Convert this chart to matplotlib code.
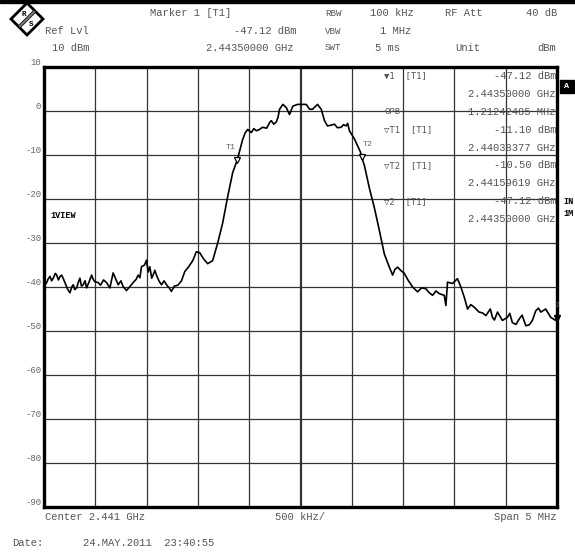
import matplotlib
matplotlib.use("Agg")
import matplotlib.pyplot as plt
from matplotlib.patches import Polygon, Rectangle
import numpy as np

W, H = 575, 554

# trace: frequency offset from center (MHz) and level (dBm)
freq_mhz = [-2.500, -2.490, -2.474, -2.460, -2.442, -2.425, -2.410, -2.390, -2.376, -2.360,
            -2.344, -2.328, -2.310, -2.296, -2.270, -2.247, -2.230, -2.215, -2.200, -2.182,
            -2.165, -2.150, -2.135, -2.118, -2.100, -2.085, -2.060, -2.036, -2.020, -2.004,
            -1.972, -1.950, -1.920, -1.890, -1.858, -1.826, -1.800, -1.777, -1.750, -1.729,
            -1.696, -1.660, -1.631, -1.600, -1.583, -1.565, -1.550, -1.520, -1.501, -1.485,
            -1.469, -1.450, -1.437, -1.420, -1.404, -1.380, -1.355, -1.330, -1.306, -1.280,
            -1.258, -1.230, -1.196, -1.160, -1.128, -1.090, -1.050, -1.015, -0.982, -0.945,
            -0.905, -0.856, -0.807, -0.759, -0.710, -0.661, -0.616, -0.590, -0.564, -0.540,
            -0.515, -0.479, -0.455, -0.431, -0.400, -0.370, -0.330, -0.300, -0.285, -0.260,
            -0.236, -0.220, -0.204, -0.172, -0.139, -0.107, -0.075, -0.029, 0.056, 0.088,
            0.117, 0.166, 0.202, 0.234, 0.263, 0.300, 0.331, 0.360, 0.396, 0.420,
            0.445, 0.460, 0.477, 0.525, 0.584, 0.596, 0.623, 0.671, 0.720, 0.769,
            0.817, 0.866, 0.898, 0.920, 0.947, 0.980, 1.012, 1.050, 1.093, 1.141,
            1.180, 1.223, 1.250, 1.287, 1.320, 1.352, 1.401, 1.417, 1.433, 1.482,
            1.530, 1.563, 1.596, 1.628, 1.660, 1.693, 1.741, 1.775, 1.807, 1.850,
            1.871, 1.890, 1.920, 1.968, 2.017, 2.040, 2.065, 2.100, 2.131, 2.160,
            2.196, 2.230, 2.260, 2.293, 2.320, 2.342, 2.390, 2.439, 2.488, 2.500]
level_dbm = [-40.0, -39.5, -39.0, -38.2, -37.6, -38.6, -38.0, -36.9, -37.3, -38.4,
             -37.6, -37.3, -38.2, -39.0, -40.5, -41.3, -40.0, -39.5, -40.6, -40.2,
             -38.9, -38.0, -39.8, -39.5, -38.6, -40.2, -38.8, -37.3, -38.3, -38.8,
             -39.0, -39.6, -38.4, -39.0, -40.2, -36.8, -38.2, -39.5, -38.6, -39.9,
             -40.8, -39.8, -39.0, -38.2, -37.3, -37.9, -35.4, -35.0, -33.9, -36.6,
             -35.4, -38.0, -37.3, -36.2, -37.3, -38.6, -39.5, -38.6, -39.5, -40.2,
             -41.0, -39.8, -39.6, -38.6, -36.5, -35.4, -34.0, -32.0, -32.2, -33.6,
             -34.7, -34.0, -30.0, -25.5, -19.5, -14.0, -11.1, -8.8, -6.5, -5.0,
             -4.2, -4.9, -4.0, -4.5, -4.2, -3.7, -3.9, -2.6, -2.2, -3.0,
             -2.5, -1.5, 0.4, 1.5, 0.8, -0.8, 1.1, 1.5, 1.5, 0.4,
             0.4, 1.5, 0.4, -2.2, -3.4, -3.2, -3.0, -3.8, -3.7, -3.1,
             -3.4, -2.8, -4.5, -6.3, -9.3, -10.5, -12.4, -17.5, -22.0, -27.2,
             -32.5, -35.5, -37.3, -36.0, -35.5, -36.3, -36.9, -38.5, -40.0, -41.1,
             -40.2, -40.4, -41.2, -41.9, -40.9, -41.5, -41.9, -44.2, -38.9, -39.2,
             -38.1, -40.0, -42.3, -45.0, -44.0, -44.6, -45.7, -45.9, -46.5, -45.0,
             -46.9, -47.5, -45.7, -47.6, -46.9, -46.0, -48.1, -48.5, -47.3, -46.4,
             -48.8, -48.6, -47.6, -45.4, -44.8, -45.7, -45.0, -46.9, -47.6, -47.12]

# markers
marker_names = ["T1", "T2"]
marker_freq = [-0.616, 0.596]
marker_level = [-11.10, -10.50]
m1_freq, m1_level = 2.5, -47.12

y_ticks = [10, 0, -10, -20, -30, -40, -50, -60, -70, -80, -90]

table_left = ["\u25bc1  [T1]", "", "OPB", "\u25bdT1  [T1]", "", "\u25bdT2  [T1]", "", "\u25bd2  [T1]", ""]
table_right = ["-47.12 dBm", "2.44350000 GHz", "1.21242485 MHz", "-11.10 dBm", "2.44038377 GHz",
               "-10.50 dBm", "2.44159619 GHz", "-47.12 dBm", "2.44350000 GHz"]

MONO = ["Liberation Mono", "DejaVu Sans Mono", "DejaVu Sans"]
TXT = "#555555"

fig = plt.figure(figsize=(W / 100, H / 100), dpi=100)
ax = fig.add_axes([44 / W, 1 - 507 / H, 513 / W, 440 / H])

def ftext(x, y, s, **kw):
    kw.setdefault("family", MONO)
    kw.setdefault("fontsize", 7.6)
    kw.setdefault("color", TXT)
    kw.setdefault("va", "center")
    fig.text(x / W, 1 - y / H, s, **kw)

ax.set_xlim(-2.5, 2.5)
ax.set_ylim(-90, 10)
for v in np.linspace(-2.0, 2.0, 9):
    ax.axvline(v, color="#333333", lw=1.6 if abs(v) < 1e-9 else 0.9, zorder=1)
for t in y_ticks[1:-1]:
    ax.axhline(t, color="#333333", lw=0.9, zorder=1)
ax.set_xticks([])
ax.set_yticks(y_ticks)
ax.set_yticklabels([str(t) for t in y_ticks], family=MONO, fontsize=6.5, color="#666666", va="bottom")
ax.tick_params(axis="y", length=0, pad=2)
for s in ax.spines.values():
    s.set_linewidth(2.4)
    s.set_color("black")

ax.plot(freq_mhz, level_dbm, color="black", lw=1.2, zorder=3, clip_on=False)
ax.plot(marker_freq, marker_level, "v", ms=5, mfc="white", mec="black", mew=0.9, zorder=4)
for n, f, l, dx in zip(marker_names, marker_freq, marker_level, [-5, 4]):
    ax.annotate(n, (f, l), xytext=(dx, 8), textcoords="offset points", ha="center",
                family=MONO, fontsize=6, color="#666666")
ax.plot([m1_freq], [m1_level], "v", ms=5, color="black", clip_on=False, zorder=4)
ax.annotate("2", (m1_freq, m1_level), xytext=(0, 8), textcoords="offset points", ha="center",
            family=MONO, fontsize=5.5, color="#666666", annotation_clip=False)

# marker table inside the grid
for i, (a, b) in enumerate(zip(table_left, table_right)):
    y = 76 + i * 17.9
    ftext(384, y, a, family=["DejaVu Sans Mono"] if "\u25bd" in a or "\u25bc" in a else MONO,
          fontsize=6.4 if a else 7.6)
    ftext(556, y, b, ha="right")
ftext(50, 215, "1VIEW", fontsize=6.2, color="black", weight="bold")

# header
fig.add_artist(Rectangle((0, 1 - 3 / H), 1, 3 / H, transform=fig.transFigure, color="black"))
ftext(150, 13, "Marker 1 [T1]")
ftext(45, 31, "Ref Lvl")
ftext(296, 31, "-47.12 dBm", ha="right")
ftext(52, 48, "10 dBm")
ftext(294, 48, "2.44350000 GHz", ha="right")
ftext(325, 13, "RBW", fontsize=6.6)
ftext(370, 13, "100 kHz")
ftext(445, 13, "RF Att")
ftext(526, 13, "40 dB")
ftext(325, 31, "VBW", fontsize=6.6)
ftext(380, 31, "1 MHz")
ftext(325, 48, "SWT", fontsize=6.6)
ftext(375, 48, "5 ms")
ftext(455, 48, "Unit")
ftext(556, 48, "dBm", ha="right")

# side labels
fig.add_artist(Rectangle((560 / W, 1 - 93 / H), 14 / W, 13 / H, transform=fig.transFigure, color="black"))
ftext(567, 86.5, "A", color="white", weight="bold", fontsize=6, ha="center")
ftext(563, 201, "IN", color="black", weight="bold", fontsize=6.2)
ftext(563, 213, "1M", color="black", weight="bold", fontsize=6.2)

# R&S logo
def px(pts):
    return [(x / W, 1 - y / H) for x, y in pts]
fig.add_artist(Polygon(px([(27, 3), (43, 19), (27, 35), (11, 19)]), closed=True, transform=fig.transFigure,
                       fc="white", ec="black", lw=2))
fig.add_artist(Polygon(px([(18, 26), (20, 28), (36, 12), (34, 10)]), closed=True, transform=fig.transFigure,
                       fc="#777777", ec="black", lw=0.5))
ftext(24, 15, "R", fontsize=5.5, color="black", ha="center", weight="bold")
ftext(31, 24, "S", fontsize=5.5, color="black", ha="center", weight="bold")

# footer
ftext(45, 517, "Center 2.441 GHz")
ftext(275, 517, "500 kHz/")
ftext(556, 517, "Span 5 MHz", ha="right")
ftext(12, 543, "Date:")
ftext(83, 543, "24.MAY.2011  23:40:55")

fig.savefig("out.png", dpi=100, facecolor="white")
